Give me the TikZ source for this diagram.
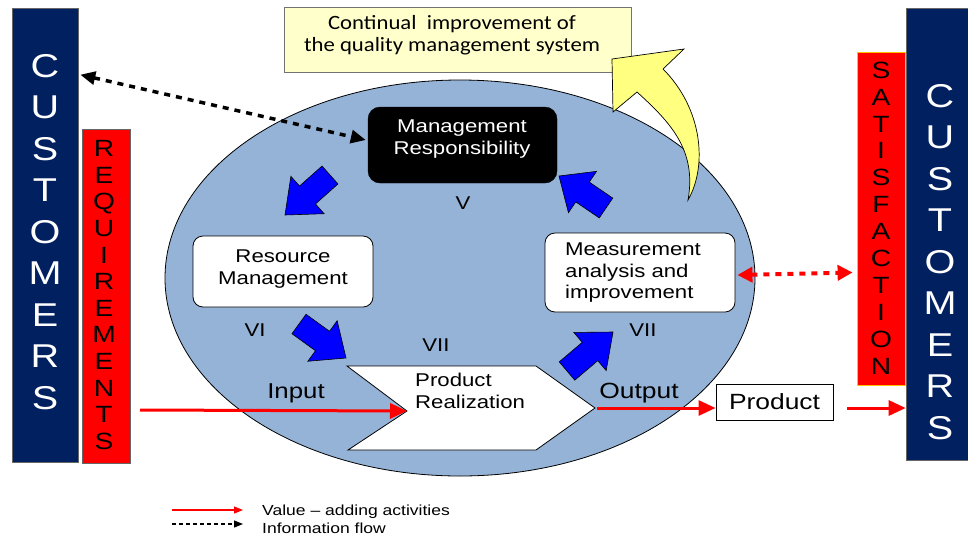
\documentclass[tikz,border=0pt]{standalone}
\usepackage{fontspec}
\setmainfont{Liberation Sans}
\newfontfamily\arw[FakeStretch=1.2]{Liberation Sans}
\newfontfamily\calw[FakeStretch=1.12]{Carlito}
\usetikzlibrary{arrows.meta,calc}
\definecolor{navy}{RGB}{0,32,96}
\definecolor{ellblue}{RGB}{149,179,215}
\definecolor{paleyellow}{RGB}{255,255,204}
\definecolor{arrowyellow}{RGB}{255,255,128}
\definecolor{goldline}{RGB}{255,192,0}
\newcommand\blockarrow[2]{%
  \coordinate (bam) at ($(#1)!0.5!(#2)$);
  \draw[blockarr] ($(#1)!12pt!90:(#2)$) -- ($(bam)!12pt!90:(#2)$) -- ($(bam)!25pt!90:(#2)$) -- (#2)
    -- ($(bam)!25pt!-90:(#2)$) -- ($(bam)!12pt!-90:(#2)$) -- ($(#1)!12pt!-90:(#2)$) -- cycle;}
\tikzset{
  custbox/.style={fill=navy,draw=black!60,line width=0.6pt,inner sep=0pt},
  redbox/.style={fill=red,draw=black!60,line width=0.6pt,inner sep=0pt},
  procbox/.style={fill=white,draw=black,line width=0.8pt,rounded corners=10pt,inner sep=0pt},
  bigletters/.style={font=\arw\fontsize{33}{41.5}\selectfont,text=white,align=center,inner sep=0pt},
  redletters/.style={font=\arw\fontsize{23.5}{26.6}\selectfont,text=black,align=center,inner sep=0pt},
  lbl/.style={font=\arw\fontsize{18.5}{22}\selectfont,inner sep=0pt},
  valueflow/.style={red,line width=3pt,-{Triangle[length=17pt,width=15pt]}},
  infoflow/.style={black,line width=3.5pt,dash pattern=on 6pt off 6pt,{Triangle[length=15pt,width=13pt]}-{Triangle[length=15pt,width=13pt]}},
  satflow/.style={red,line width=4pt,dash pattern=on 6pt off 6pt,{Triangle[length=15pt,width=15pt]}-{Triangle[length=15pt,width=15pt]}},
  blockarr/.style={fill=blue,draw=black,line width=0.6pt,line join=miter},
  legendtext/.style={font=\arw\fontsize{14.6}{17}\selectfont,inner sep=0pt,anchor=west},
}
\begin{document}
\begin{tikzpicture}[x=1pt,y=-1pt]
\useasboundingbox (0,0) rectangle (968,539);
% ellipse
\fill[ellblue,draw=black,line width=0.8pt] (460,278) ellipse [x radius=295pt, y radius=198pt];
% continual improvement box
\node[fill=paleyellow,draw=black!55,line width=0.6pt,minimum width=347pt,minimum height=65pt,inner sep=0pt] (cont) at (457.5,39.5) {};
\node[font=\calw\fontsize{20.3}{22}\selectfont,align=center,inner sep=0pt] (contT) at (452,35) {Continual\ \ improvement of\\the quality management system};
% yellow curved arrow
\draw[fill=arrowyellow,draw=black,line width=0.7pt,line join=miter]
  (612,59) -- (613,112) -- (637,92) .. controls (670,122) and (697,150) .. (688,200)
  .. controls (708,165) and (702,108) .. (663,69) -- (684,49) -- cycle;
% customers and requirement bars
\node[custbox,minimum width=66pt,minimum height=454pt] (custL) at (45,235) {};
\node[bigletters] (custLT) at (45,232) {C\\U\\S\\T\\O\\M\\E\\R\\S};
\node[redbox,minimum width=48pt,minimum height=334pt] (req) at (106,296) {};
\node[redletters] (reqT) at (104,295) {R\\E\\Q\\U\\I\\R\\E\\M\\E\\N\\T\\S};
\node[custbox,minimum width=64pt,minimum height=452pt] (custR) at (938,234) {};
\node[bigletters] (custRT) at (940,262) {C\\U\\S\\T\\O\\M\\E\\R\\S};
\node[fill=red,draw=goldline,line width=0.8pt,inner sep=0pt,minimum width=48pt,minimum height=333pt] (sat) at (881,218.5) {};
\node[redletters,font=\arw\fontsize{23.5}{26.9}\selectfont] (satT) at (881,218) {S\\A\\T\\I\\S\\F\\A\\C\\T\\I\\O\\N};
% process boxes
\node[fill=black,draw=black,rounded corners=12pt,minimum width=189pt,minimum height=76pt,inner sep=0pt] (mgmt) at (462.5,145) {};
\node[lbl,text=white,align=center] (mgmtT) at (462,139) {Management\\Responsibility};
\node[procbox,minimum width=180pt,minimum height=71pt] (res) at (283,271.5) {};
\node[lbl,align=center] (resT) at (283,269) {Resource\\Management};
\node[procbox,minimum width=190pt,minimum height=79pt] (meas) at (640,272.5) {};
\node[lbl,align=left,anchor=west,font=\arw\fontsize{18.5}{21.5}\selectfont] (measT) at (565,273) {Measurement\\analysis and\\improvement};
% product realization
\coordinate (prNotch) at (407,411);
\coordinate (prTip) at (595,408);
\draw[fill=white,draw=black,line width=0.8pt] (347,366) -- (536,366) -- (prTip) -- (536,450) -- (348,450) -- (prNotch) -- cycle;
\node[lbl,align=left,anchor=west] (prT) at (415,391) {Product\\Realization};
% roman labels
\node[lbl] (v5) at (463,203) {V};
\node[lbl] (v6) at (255,330) {VI};
\node[lbl] (v7a) at (436,345) {VII};
\node[lbl] (v7b) at (643,330) {VII};
% blue block arrows
\coordinate (a1t) at (330,175); \coordinate (a1h) at (285,215);
\coordinate (a2t) at (606,208); \coordinate (a2h) at (559,176);
\coordinate (a3t) at (299,324); \coordinate (a3h) at (346,358);
\coordinate (a4t) at (567,371); \coordinate (a4h) at (613,332);
\blockarrow{a1t}{a1h}
\blockarrow{a2t}{a2h}
\blockarrow{a3t}{a3h}
\blockarrow{a4t}{a4h}
% product box
\node[draw=black,fill=white,line width=0.9pt,minimum width=117pt,minimum height=36pt,inner sep=0pt,font=\arw\fontsize{22}{26}\selectfont] (prod) at (774.5,402) {Product};
% input / output
\node[lbl,font=\arw\fontsize{21.5}{25}\selectfont] (inT) at (296,393) {Input};
\node[lbl,font=\arw\fontsize{22}{25}\selectfont] (outT) at (639,393) {Output};
\coordinate (inStart) at (140,410);
\draw[valueflow] (inStart) -- (prNotch);
\draw[valueflow] ([xshift=2pt]prTip) -- (prTip -| prod.west);
\coordinate (p1) at ([xshift=14pt]prod.east);
\draw[valueflow] (p1 |- prTip) -- (prTip -| custR.west);
% information flows
\draw[infoflow] ([xshift=2pt,yshift=-67pt]custL.north east) -- ([xshift=-2pt,yshift=5pt]mgmt.west);
\draw[satflow] ([xshift=2pt,yshift=-2.5pt]meas.east) -- ([xshift=-4pt]meas.east -| sat.west);
% legend
\coordinate (lg1a) at (172,510); \coordinate (lg1b) at (243,510);
\coordinate (lg2a) at (172,524); \coordinate (lg2b) at (243,524);
\draw[red,line width=1.2pt,-{Triangle[length=9pt,width=7pt]}] (lg1a) -- (lg1b);
\draw[black,line width=1.2pt,dash pattern=on 4pt off 3pt,-{Triangle[length=9pt,width=7pt]}] (lg2a) -- (lg2b);
\node[legendtext] (lgT1) at (262,512) {Value – adding activities};
\node[legendtext] (lgT2) at (262,528) {Information flow};
\end{tikzpicture}
\end{document}
